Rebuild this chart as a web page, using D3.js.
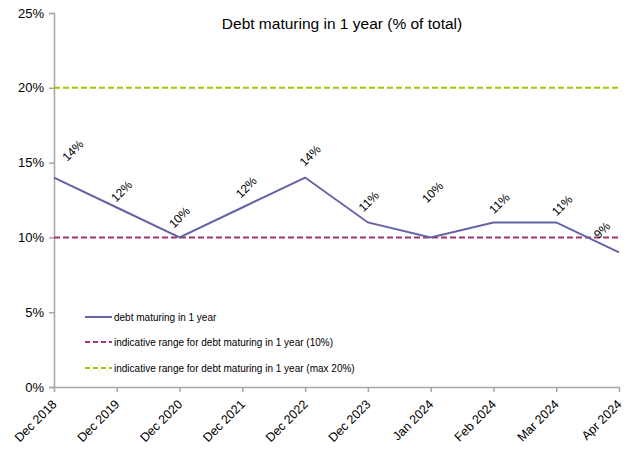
<!DOCTYPE html>
<html>
<head>
<meta charset="utf-8">
<script src="https://cdn.jsdelivr.net/npm/d3@7"></script>
<style>
  body { margin: 0; background: #fff; }
  text { font-family: "Liberation Sans", Arial, sans-serif; fill: #000; }
</style>
</head>
<body>
<svg id="chart" width="635" height="450"></svg>
<script>
// ---- data ----
const categories = ["Dec 2018","Dec 2019","Dec 2020","Dec 2021","Dec 2022","Dec 2023","Jan 2024","Feb 2024","Mar 2024","Apr 2024"];
const debtMaturing = [14, 12, 10, 12, 14, 11, 10, 11, 11, 9];
const rangeMin = 10;
const rangeMax = 20;
const yTicks = [0, 5, 10, 15, 20, 25];
const title = "Debt maturing in 1 year (% of total)";
const legendLabels = [
  "debt maturing in 1 year",
  "indicative range for debt maturing in 1 year (10%)",
  "indicative range for debt maturing in  1 year (max 20%)"
];

(function () {
// label nudges (pixels) for the manually placed data labels
const labelNudge = [[19,-27],[5,-16],[0,-20],[4,-20],[5,-22],[1,-21],[2,-45],[6,-19],[6,-17],[-17,-22]];

const svg = d3.select("#chart");
const mLeft = 54, mRight = 619, mTop = 13, mBottom = 387;

const x = d3.scalePoint().domain(categories).range([mLeft, mRight]).padding(0);
const y = d3.scaleLinear().domain([0, 25]).range([mBottom, mTop]);

const colLine = "#6363a5", colMin = "#a3336f", colMax = "#99cc00", axisCol = "#a6a6a6";

// axes
const yAxis = svg.append("g").attr("transform", `translate(${mLeft},0)`)
  .call(d3.axisLeft(y).tickValues(yTicks).tickFormat(d => d + "%").tickSize(5).tickPadding(5));
yAxis.select(".domain").attr("stroke", axisCol).attr("stroke-width", 1.5);
yAxis.selectAll(".tick line").attr("stroke", axisCol).attr("stroke-width", 1.5);
yAxis.selectAll("text").attr("font-size", 13).attr("fill", "#222").attr("font-family", "Liberation Sans, Arial, sans-serif");

const xAxis = svg.append("g").attr("transform", `translate(0,${mBottom})`)
  .call(d3.axisBottom(x).tickSize(5).tickSizeOuter(0));
xAxis.select(".domain").attr("stroke", axisCol).attr("stroke-width", 1.5);
xAxis.selectAll(".tick line").attr("stroke", axisCol).attr("stroke-width", 1.5);
xAxis.selectAll("text")
  .attr("font-size", 12.5).attr("fill", "#222").attr("font-family", "Liberation Sans, Arial, sans-serif")
  .attr("text-anchor", "end")
  .attr("dy", null).attr("y", 0)
  .attr("transform", "translate(3,18) rotate(-45)");

// reference lines
svg.append("line").attr("x1", mLeft).attr("x2", mRight).attr("y1", y(rangeMax)).attr("y2", y(rangeMax))
  .attr("stroke", colMax).attr("stroke-width", 2).attr("stroke-dasharray", "6,3");
svg.append("line").attr("x1", mLeft).attr("x2", mRight).attr("y1", y(rangeMin)).attr("y2", y(rangeMin))
  .attr("stroke", colMin).attr("stroke-width", 2).attr("stroke-dasharray", "6,3");

// series line
const line = d3.line().x((d, i) => x(categories[i])).y(d => y(d));
svg.append("path").datum(debtMaturing).attr("d", line)
  .attr("fill", "none").attr("stroke", colLine).attr("stroke-width", 2);

// data labels
svg.append("g").selectAll("text").data(debtMaturing).join("text")
  .attr("transform", (d, i) => `translate(${x(categories[i]) + labelNudge[i][0]},${y(d) + labelNudge[i][1]}) rotate(-45)`)
  .attr("text-anchor", "middle").attr("dominant-baseline", "central")
  .attr("font-size", 12).attr("fill", "#222")
  .text(d => d + "%");

// title
svg.append("text").attr("x", 342).attr("y", 29).attr("text-anchor", "middle")
  .attr("font-size", 15.5).attr("fill", "#111").text(title);

// legend
const legend = svg.append("g");
const legendY = [317, 342, 368];
const legendStyles = [
  {c: colLine, dash: null},
  {c: colMin, dash: "5,3"},
  {c: colMax, dash: "5,3"}
];
legendLabels.forEach((t, i) => {
  legend.append("line").attr("x1", 85).attr("x2", 112).attr("y1", legendY[i]).attr("y2", legendY[i])
    .attr("stroke", legendStyles[i].c).attr("stroke-width", 2)
    .attr("stroke-dasharray", legendStyles[i].dash);
  legend.append("text").attr("x", 114).attr("y", legendY[i]).attr("dominant-baseline", "central")
    .attr("font-size", 10).attr("fill", "#222").text(t);
});
})();
</script>
</body>
</html>
